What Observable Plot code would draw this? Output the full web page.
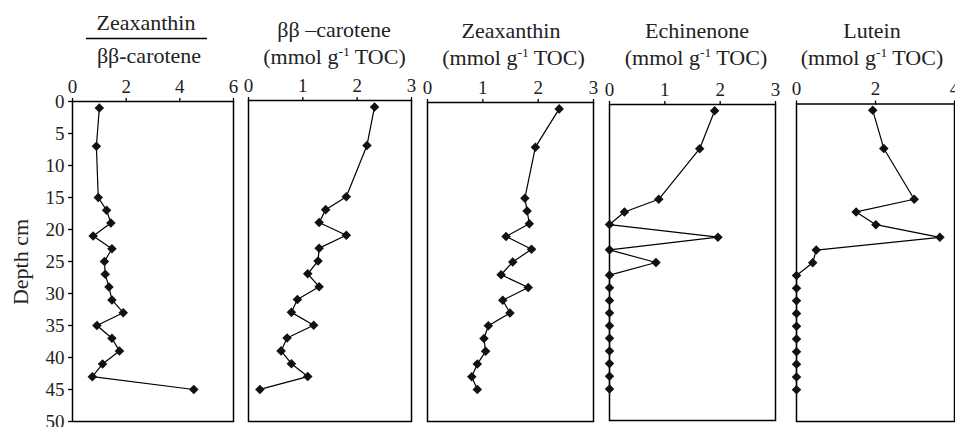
<!DOCTYPE html>
<html><head><meta charset="utf-8">
<script src="https://cdn.jsdelivr.net/npm/d3@7"></script>
<script src="https://cdn.jsdelivr.net/npm/@observablehq/plot@0.6"></script>
<style>
html,body{margin:0;padding:0;background:#fff;}
#chart{position:relative;width:955px;height:427px;overflow:hidden;}
#chart svg{position:absolute;left:0;top:0;}
#chart svg, #chart svg text{font-family:"Times New Roman","Liberation Serif",Times,"DejaVu Serif",serif !important;}
</style></head><body><div id="chart"></div>
<script>
const depths = [1,7,15,17,19,21,23,25,27,29,31,33,35,37,39,41,43,45];
const ratioZeaBeta = [1.0,0.89,0.96,1.27,1.43,0.77,1.47,1.19,1.22,1.36,1.47,1.89,0.91,1.47,1.75,1.12,0.74,4.52];
const betaCarotene = [2.32,2.18,1.80,1.42,1.30,1.80,1.30,1.28,1.09,1.30,0.90,0.79,1.20,0.71,0.60,0.79,1.09,0.21];
const zeaxanthin = [2.38,1.95,1.76,1.80,1.84,1.42,1.88,1.54,1.33,1.82,1.36,1.49,1.10,1.02,1.05,0.90,0.80,0.90];
const echinenone = [1.90,1.63,0.89,0.27,0,1.96,0,0.84,0,0,0,0,0,0,0,0,0,0];
const lutein = [1.93,2.21,2.98,1.51,2.01,3.63,0.50,0.41,0,0,0,0,0,0,0,0,0,0];
const depthTicks = [0,5,10,15,20,25,30,35,40,45,50];
const ticks6 = [0,2,4,6];
const ticks3 = [0,1,2,3];
const ticks4 = [0,2,4];

const W = 955, H = 427;
const panels = [
  {values: ratioZeaBeta, xMax: 6, ticks: ticks6, left: 72, right: 233, top: 101, bottom: 421, yAxis: true},
  {values: betaCarotene, xMax: 3, ticks: ticks3, left: 248, right: 411, top: 100, bottom: 421},
  {values: zeaxanthin, xMax: 3, ticks: ticks3, left: 427, right: 593, top: 102, bottom: 421},
  {values: echinenone, xMax: 3, ticks: ticks3, left: 609, right: 775, top: 104, bottom: 420},
  {values: lutein, xMax: 4, ticks: ticks4, left: 796, right: 954, top: 103.5, bottom: 421}
];
const chart = document.getElementById("chart");
const FONT = '"Times New Roman","Liberation Serif",Times,"DejaVu Serif",serif';
for (const p of panels) {
  const data = depths.map((d, i) => ({depth: d, v: p.values[i]}));
  const marks = [
    Plot.frame({stroke: "#000", strokeWidth: 1.5}),
    Plot.axisX({anchor: "top", ticks: p.ticks, tickFormat: d => String(d), tickSize: 4, tickPadding: 5, fontSize: 19, label: null, stroke: "#000", strokeWidth: 1.3, fill: "#222"}),
    Plot.line(data, {x: "v", y: "depth", stroke: "#000", strokeWidth: 1.2}),
    Plot.dot(data, {x: "v", y: "depth", symbol: "diamond2", r: 4.3, fill: "#111", stroke: "none"})
  ];
  if (p.yAxis) marks.push(Plot.axisY({anchor: "left", ticks: depthTicks, tickFormat: d => String(d), tickSize: 4, tickPadding: 4, fontSize: 19, label: null, stroke: "#000", strokeWidth: 1.3, fill: "#222"}));
  const svg = Plot.plot({
    width: W, height: H,
    marginLeft: p.left, marginRight: W - p.right, marginTop: p.top, marginBottom: H - p.bottom,
    x: {domain: [0, p.xMax], label: null},
    y: {domain: [0, 50], reverse: true, label: null, axis: p.yAxis ? undefined : null},
    style: {background: "transparent", fontFamily: FONT, color: "#000", overflow: "visible"},
    marks
  });
  chart.appendChild(svg);
}

// titles
const t = d3.select(chart).append("svg").attr("width", W).attr("height", H)
  .style("fill", "#222");
function plain(x, y, s) {
  t.append("text").attr("x", x).attr("y", y).attr("text-anchor", "middle").attr("font-size", 22).text(s);
}
function unit(x, y) {
  const e = t.append("text").attr("x", x).attr("y", y).attr("text-anchor", "middle").attr("font-size", 22);
  e.append("tspan").text("(mmol g");
  e.append("tspan").attr("font-size", 13.5).attr("dy", -8.5).text("-1");
  e.append("tspan").attr("dy", 8.5).text(" TOC)");
}
plain(146, 30, "Zeaxanthin");
t.append("line").attr("x1", 86).attr("x2", 207).attr("y1", 38.5).attr("y2", 38.5).attr("stroke", "#000").attr("stroke-width", 1.3);
plain(149, 63, "ββ-carotene");
plain(334, 37, "ββ –carotene");
unit(334.5, 64);
plain(511, 38, "Zeaxanthin");
unit(513.5, 65);
plain(697, 38, "Echinenone");
unit(696, 65);
plain(872, 38, "Lutein");
unit(872, 65);
t.append("text").attr("transform", "translate(28,262) rotate(-90)").attr("text-anchor", "middle").attr("font-size", 22).text("Depth cm");
</script></body></html>
